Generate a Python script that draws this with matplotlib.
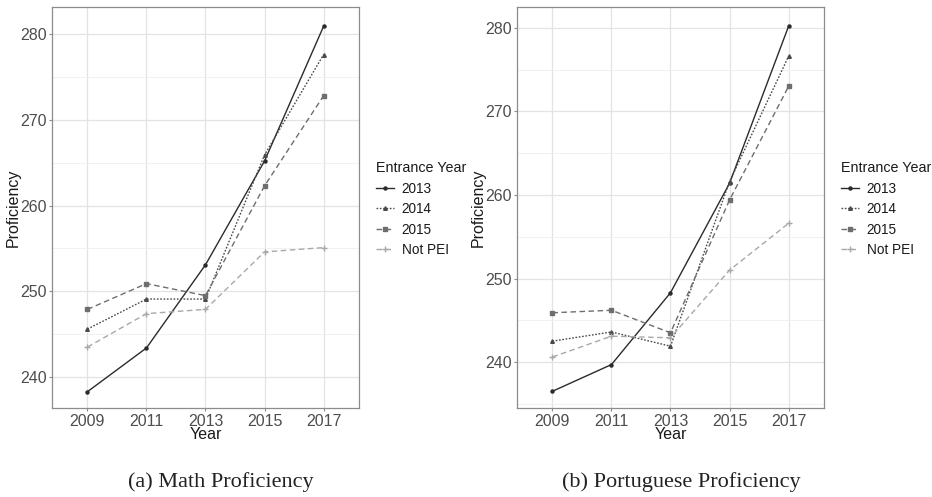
import matplotlib
matplotlib.use("Agg")
import matplotlib.pyplot as plt
from matplotlib.ticker import MultipleLocator

years = [2009, 2011, 2013, 2015, 2017]
series_names = ["2013", "2014", "2015", "Not PEI"]

math_2013 = [238.3, 243.4, 253.1, 265.2, 280.9]
math_2014 = [245.6, 249.1, 249.1, 265.9, 277.6]
math_2015 = [247.9, 250.9, 249.5, 262.3, 272.8]
math_notpei = [243.5, 247.4, 247.9, 254.6, 255.1]

port_2013 = [236.5, 239.7, 248.3, 261.4, 280.2]
port_2014 = [242.5, 243.6, 241.9, 261.6, 276.6]
port_2015 = [245.9, 246.2, 243.5, 259.4, 273.0]
port_notpei = [240.6, 243.1, 242.9, 251.0, 256.6]

captions = ["(a) Math Proficiency", "(b) Portuguese Proficiency"]

styles = {
    "2013": dict(color="#2b2b2b", linestyle="-", marker="o", markersize=2.2, linewidth=1.0),
    "2014": dict(color="#4a4a4a", linestyle=(0, (1.2, 1.2)), marker="^", markersize=2.6, linewidth=1.0),
    "2015": dict(color="#6e6e6e", linestyle=(0, (4, 2.5)), marker="s", markersize=2.4, linewidth=1.0),
    "Not PEI": dict(color="#a8a8a8", linestyle=(0, (4, 2.5)), marker="+", markersize=4.5, linewidth=1.0),
}

plt.rcParams["font.family"] = ["Liberation Sans", "DejaVu Sans"]

fig = plt.figure(figsize=(9.32, 4.97), dpi=100)
W, H = 932, 497


def panel(x0, x1, y0, y1):
    return fig.add_axes([x0 / W, (H - y1) / H, (x1 - x0) / W, (y1 - y0) / H])


def draw(ax, data, ylim, legend_x):
    for name, vals in zip(series_names, data):
        ax.plot(years, vals, label=name, **styles[name])
    ax.set_xlim(2007.8, 2018.2)
    ax.set_ylim(*ylim)
    ax.set_xticks(years)
    ax.yaxis.set_major_locator(MultipleLocator(10))
    ax.yaxis.set_minor_locator(MultipleLocator(5))
    ax.set_xticks([2010, 2012, 2014, 2016], minor=True)
    ax.grid(True, which="major", color="#e3e3e3", linewidth=0.9)
    ax.grid(True, which="minor", axis="y", color="#efefef", linewidth=0.6)
    ax.set_axisbelow(True)
    for s in ax.spines.values():
        s.set_color("#8c8c8c")
        s.set_linewidth(0.9)
    ax.tick_params(which="major", length=2.5, width=0.8, color="#8c8c8c",
                   labelsize=11.5, labelcolor="#4d4d4d", pad=1.5)
    ax.tick_params(which="minor", length=0, labelbottom=False)
    ax.set_xlabel("Year", fontsize=11.5, color="#1a1a1a", labelpad=-1)
    ax.set_ylabel("Proficiency", fontsize=11.5, color="#1a1a1a", labelpad=-1)
    leg = ax.legend(loc="upper left", bbox_to_anchor=(legend_x / W, (H - 156) / H),
                    bbox_transform=fig.transFigure, frameon=False,
                    title="Entrance Year", title_fontsize=10.3, fontsize=9.8,
                    handlelength=1.3, handletextpad=0.55, labelspacing=0.47,
                    alignment="left", borderaxespad=0)
    leg.get_title().set_color("#1a1a1a")
    for t in leg.get_texts():
        t.set_color("#1a1a1a")


ax1 = panel(52, 359, 7, 408)
draw(ax1, [math_2013, math_2014, math_2015, math_notpei], (236.4, 283.15), 371)

ax2 = panel(517, 824, 7, 408)
draw(ax2, [port_2013, port_2014, port_2015, port_notpei], (234.5, 282.5), 836)

cap_font = dict(family=["Liberation Serif", "DejaVu Serif"], fontsize=16, color="#222222",
                ha="center", va="center")
fig.text(221 / W, (H - 482) / H, captions[0], **cap_font)
fig.text(681 / W, (H - 482) / H, captions[1], **cap_font)

fig.savefig("out.png", dpi=100)
